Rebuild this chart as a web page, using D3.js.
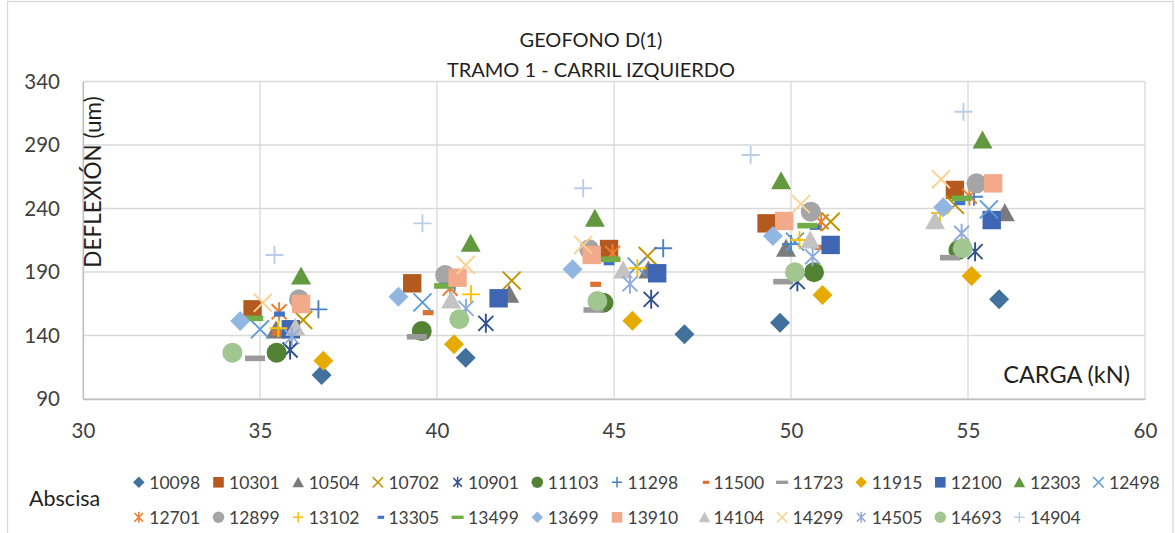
<!DOCTYPE html>
<html>
<head>
<meta charset="utf-8">
<script src="https://cdn.jsdelivr.net/npm/d3@7"></script>
<style>
  html, body { margin: 0; padding: 0; background: #fff; }
  svg { display: block; font-family: Lato, "Liberation Sans", sans-serif; }
</style>
</head>
<body>
<svg id="chart" width="1175" height="533"></svg>
<script>
// Abscisas (series) and their marker styles
const abscisas = ["10098","10301","10504","10702","10901","11103","11298","11500","11723","11915","12100","12303","12498",
                  "12701","12899","13102","13305","13499","13699","13910","14104","14299","14505","14693","14904"];
const marcadores = ["diamond","square","triangle","x","star","circle","plus","dash","longdash","diamond","square","triangle","x",
                    "star","circle","plus","dash","longdash","diamond","square","triangle","x","star","circle","plus"];
const colores = ["#41719c","#b55a1e","#7b7b7b","#c09300","#2f4f8f","#548235","#4a80c4","#dd7230","#9a9a9a","#e6aa00","#3f66b2","#62993f","#5b9bd5",
                 "#ed7d31","#a5a5a5","#ffc000","#4472c4","#70ad47","#91b6e2","#f2aa8a","#c3c3c3","#fdd092","#8faadc","#a2c690","#b9cdea"];

// Load (kN) per abscisa, five drops each
const carga = [
  [36.74, 40.81, 46.99, 49.69, 55.88],
  [34.79, 39.30, 44.86, 49.31, 54.63],
  [35.45, 42.04, 45.97, 49.86, 56.04],
  [36.22, 42.11, 45.95, 51.12, 54.63],
  [35.85, 41.38, 46.05, 50.18, 55.20],
  [35.47, 39.57, 44.70, 50.65, 54.73],
  [36.65, 40.50, 46.39, 50.00, 55.17],
  [35.50, 39.75, 44.48, 50.82, 55.60],
  [34.86, 39.43, 44.42, 49.78, 54.49],
  [36.79, 40.48, 45.52, 50.89, 55.10],
  [35.87, 41.74, 46.22, 51.12, 55.67],
  [36.16, 40.95, 44.46, 49.72, 55.41],
  [35.00, 39.59, 45.64, 50.11, 55.59],
  [35.54, 40.37, 44.96, 50.85, 55.04],
  [36.10, 40.23, 44.30, 50.56, 55.24],
  [35.52, 40.96, 45.66, 50.24, 54.21],
  [35.55, 40.20, 44.86, 50.68, 54.77],
  [34.81, 40.20, 44.90, 50.46, 54.82],
  [34.44, 38.91, 43.83, 49.49, 54.30],
  [36.16, 40.58, 44.37, 49.81, 55.71],
  [36.00, 40.40, 45.26, 50.54, 54.07],
  [35.08, 40.81, 44.13, 50.28, 54.24],
  [35.90, 40.82, 45.45, 50.61, 54.82],
  [34.22, 40.63, 44.53, 50.11, 54.85],
  [35.41, 39.59, 44.13, 48.86, 54.87]
];

// Deflection (um) per abscisa, same order as carga
const deflexion = [
  [108.9, 122.5, 140.9, 150.1, 168.5],
  [160.6, 181.1, 208.1, 228.3, 254.6],
  [144.3, 172.4, 191.6, 208.7, 236.7],
  [152.2, 183.2, 202.6, 229.6, 242.8],
  [128.6, 149.6, 168.5, 182.4, 206.0],
  [126.5, 143.5, 165.8, 189.8, 207.3],
  [160.6, 182.0, 208.7, 212.0, 249.3],
  [142.0, 158.0, 180.3, 209.4, 232.0],
  [122.0, 139.0, 160.1, 182.4, 201.3],
  [120.2, 133.1, 151.7, 171.9, 186.9],
  [144.9, 169.3, 189.0, 211.3, 230.9],
  [186.9, 212.6, 232.3, 261.9, 293.9],
  [144.9, 166.1, 194.2, 213.9, 239.3],
  [158.7, 177.2, 204.7, 229.6, 249.8],
  [168.5, 187.6, 207.9, 237.5, 259.8],
  [145.7, 172.4, 192.9, 215.2, 236.5],
  [156.9, 179.5, 197.3, 225.2, 244.6],
  [153.5, 179.0, 200.0, 226.5, 248.0],
  [151.4, 170.6, 192.1, 218.3, 240.9],
  [164.8, 185.5, 203.4, 230.2, 259.8],
  [146.5, 168.0, 191.6, 215.2, 230.4],
  [165.8, 195.5, 211.3, 243.5, 263.0],
  [139.1, 161.4, 180.6, 202.0, 220.5],
  [126.5, 152.8, 167.2, 189.8, 208.7],
  [203.4, 228.3, 255.9, 282.1, 316.2]
];

const xTicks = [30, 35, 40, 45, 50, 55, 60];
const yTicks = [90, 140, 190, 240, 290, 340];

const titulo1 = "GEOFONO D(1)";
const titulo2 = "TRAMO 1 - CARRIL IZQUIERDO";
const tituloX = "CARGA (kN)";
const tituloY = "DEFLEXIÓN (um)";
const tituloLeyenda = "Abscisa";

// ---------------------------------------------------------------
const svg = d3.select("#chart");
const W = 1175, H = 533;
const plot = { left: 83, right: 1145, top: 81.5, bottom: 399 };

svg.append("rect").attr("width", W).attr("height", H).attr("fill", "#fff");
svg.append("rect")
  .attr("x", 7.5).attr("y", 1.5).attr("width", 1165.5).attr("height", 560)
  .attr("fill", "none").attr("stroke", "#d9d9d9").attr("stroke-width", 1.3);

const x = d3.scaleLinear().domain([30, 60]).range([plot.left, plot.right]);
const y = d3.scaleLinear().domain([90, 340]).range([plot.bottom, plot.top]);

// gridlines
const grid = svg.append("g").attr("stroke", "#d9d9d9").attr("stroke-width", 1.3);
grid.selectAll("line.h").data(yTicks).join("line")
  .attr("x1", plot.left).attr("x2", plot.right)
  .attr("y1", d => y(d)).attr("y2", d => y(d));
grid.selectAll("line.v").data(xTicks).join("line")
  .attr("y1", plot.top).attr("y2", plot.bottom)
  .attr("x1", d => x(d)).attr("x2", d => x(d));

// axes (lines only, labels drawn by d3.axis with no tick marks)
const xAxis = svg.append("g").attr("transform", `translate(0,${plot.bottom})`)
  .call(d3.axisBottom(x).tickValues(xTicks).tickSize(0).tickPadding(24));
const yAxis = svg.append("g").attr("transform", `translate(${plot.left},0)`)
  .call(d3.axisLeft(y).tickValues(yTicks).tickSize(0).tickPadding(23));
[xAxis, yAxis].forEach(g => {
  g.select(".domain").attr("stroke", "#bfbfbf").attr("stroke-width", 1.3);
  g.selectAll("text").attr("font-family", "Lato, 'Liberation Sans', sans-serif")
    .attr("font-size", 20.5).attr("fill", "#404040");
});

// titles
const tcx = 591;
svg.append("text").attr("x", tcx).attr("y", 47).attr("text-anchor", "middle")
  .attr("font-size", 20).attr("fill", "#1f1f1f").text(titulo1);
svg.append("text").attr("x", tcx).attr("y", 76.5).attr("text-anchor", "middle")
  .attr("font-size", 20).attr("fill", "#1f1f1f").text(titulo2);
svg.append("text").attr("x", 1130).attr("y", 383).attr("text-anchor", "end")
  .attr("font-size", 23.5).attr("fill", "#1f1f1f").text(tituloX);
svg.append("text").attr("transform", "translate(101,182) rotate(-90)").attr("text-anchor", "middle")
  .attr("font-size", 22.5).attr("fill", "#1f1f1f").text(tituloY);

// marker drawing
function drawMarker(g, shape, color, s) {
  const h = s / 2;
  switch (shape) {
    case "diamond":
      g.append("path").attr("d", `M0,${-h}L${h},0L0,${h}L${-h},0Z`).attr("fill", color); break;
    case "square":
      g.append("rect").attr("x", -h * 0.92).attr("y", -h * 0.92).attr("width", s * 0.92).attr("height", s * 0.92).attr("fill", color); break;
    case "triangle":
      g.append("path").attr("d", `M0,${-h * 0.95}L${h},${h * 0.85}L${-h},${h * 0.85}Z`).attr("fill", color); break;
    case "circle":
      g.append("circle").attr("r", h).attr("fill", color); break;
    case "x": {
      const a = h * 0.9;
      g.append("path").attr("d", `M${-a},${-a}L${a},${a}M${-a},${a}L${a},${-a}`)
        .attr("stroke", color).attr("stroke-width", s > 14 ? 1.9 : 1.5).attr("fill", "none"); break;
    }
    case "star": {
      const a = h * 0.75;
      g.append("path").attr("d", `M${-a},${-a}L${a},${a}M${-a},${a}L${a},${-a}M0,${-h * 0.95}L0,${h * 0.95}`)
        .attr("stroke", color).attr("stroke-width", s > 14 ? 1.9 : 1.5).attr("fill", "none"); break;
    }
    case "plus": {
      const a = h * 0.9;
      g.append("path").attr("d", `M${-a},0L${a},0M0,${-a}L0,${a}`)
        .attr("stroke", color).attr("stroke-width", s > 14 ? 1.9 : 1.5).attr("fill", "none"); break;
    }
    case "dash":
      g.append("rect").attr("x", -s * 0.27).attr("y", -s * 0.13).attr("width", s * 0.54).attr("height", s * 0.26).attr("fill", color); break;
    case "longdash":
      g.append("rect").attr("x", -s * 0.5).attr("y", -s * 0.14).attr("width", s).attr("height", s * 0.28).attr("fill", color); break;
  }
}

// points
const puntos = svg.append("g");
abscisas.forEach((nombre, i) => {
  const serie = puntos.append("g").attr("class", "serie-" + nombre);
  carga[i].forEach((c, j) => {
    const m = serie.append("g").attr("transform", `translate(${x(c)},${y(deflexion[i][j])})`);
    drawMarker(m, marcadores[i], colores[i], 20);
  });
});

// legend
const leyenda = svg.append("g");
leyenda.append("text").attr("x", 29).attr("y", 506).attr("font-size", 21.5).attr("fill", "#1f1f1f").text(tituloLeyenda);
const filas = [482.3, 517.3];
const porFila = 13;
abscisas.forEach((nombre, i) => {
  const fila = Math.floor(i / porFila), col = i % porFila;
  const tx = col < 7 ? 149.3 + col * 79.7 : 713.5 + (col - 7) * 79.1;
  const cy = filas[fila];
  const off = marcadores[i] === "dash" ? 7.5 : (marcadores[i] === "triangle" && col === 7 ? 9 : 10.5);
  const m = leyenda.append("g").attr("transform", `translate(${tx - off},${cy})`);
  drawMarker(m, marcadores[i], colores[i], marcadores[i] === "longdash" ? 12 : (marcadores[i] === "dash" ? 12 : 11.5));
  leyenda.append("text").attr("x", tx).attr("y", cy).attr("dy", "0.36em")
    .attr("font-size", 17.5).attr("fill", "#404040").text(nombre);
});
</script>
</body>
</html>
